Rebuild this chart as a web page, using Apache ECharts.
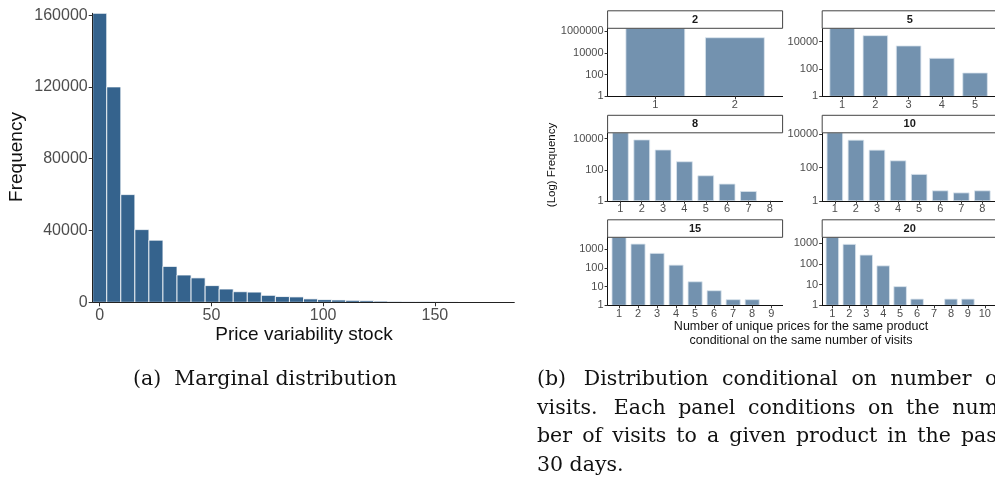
<!DOCTYPE html>
<html><head><meta charset="utf-8">
<script src="https://cdn.jsdelivr.net/npm/echarts@6/dist/echarts.min.js"></script>
<style>html,body{margin:0;padding:0;background:#fff}#c{width:995px;height:492px}</style>
</head><body><div id="c"></div>
<script>
// ---------- data ----------
const histBinWidth = 6.29;
const histCounts = [161000, 120000, 60000, 40500, 34600, 20000, 15200, 13600, 9300, 7400,
  5900, 5700, 3900, 3200, 3000, 1900, 1500, 1300, 1100, 900,
  650, 500, 450, 380, 300, 220, 120, 80, 50, 20];
const histXTicks = [0, 50, 100, 150];
const histYTicks = [0, 40000, 80000, 120000, 160000];

const panelTitles = ['2', '5', '8', '10', '15', '20'];
const cats2 = [1, 2];
const freq2 = [1780000, 243000];
const yTicks2 = [1, 100, 10000, 1000000];
const cats5 = [1, 2, 3, 4, 5];
const freq5 = [95000, 27500, 4850, 605, 51];
const yTicks5 = [1, 100, 10000];
const cats8 = [1, 2, 3, 4, 5, 6, 7, 8];
const freq8 = [24000, 8350, 1880, 328, 41, 12, 4, 1];
const yTicks8 = [1, 100, 10000];
const cats10 = [1, 2, 3, 4, 5, 6, 7, 8];
const freq10 = [12500, 4500, 1130, 257, 39, 4, 3, 4];
const yTicks10 = [1, 100, 10000];
const cats15 = [1, 2, 3, 4, 5, 6, 7, 8, 9];
const freq15 = [4240, 1850, 590, 139, 18, 6, 2, 2, 1];
const yTicks15 = [1, 10, 100, 1000];
const cats20 = [1, 2, 3, 4, 5, 6, 7, 8, 9, 10];
const freq20 = [1950, 890, 270, 81, 8, 2, 1, 2, 2, 1];
const yTicks20 = [1, 10, 100, 1000];

const captionA = '(a)  Marginal distribution';
const captionB = ['(b)  Distribution conditional on number of', 'visits.  Each panel conditions on the num-',
  'ber of visits to a given product in the past', '30 days.'];

// ---------- layout ----------
const SANS = 'Liberation Sans';
const SERIF = 'DejaVu Serif';
const CAP_SIZE = 20.5;
const histColor = '#35638D';
const facetColor = '#7392AF';
const L = { left: 92.7, top: 13.3, width: 421.6, height: 289 };
const colLeft = [607.6, 822.2];
const rowTop = [28.3, 132.8, 237.3];
const PW = 175, PH = 68, STRIP = 17.5;
const panels = [
  { cats: cats2, freq: freq2, ticks: yTicks2 },
  { cats: cats5, freq: freq5, ticks: yTicks5 },
  { cats: cats8, freq: freq8, ticks: yTicks8 },
  { cats: cats10, freq: freq10, ticks: yTicks10 },
  { cats: cats15, freq: freq15, ticks: yTicks15 },
  { cats: cats20, freq: freq20, ticks: yTicks20 }
];

const grid = [], xAxis = [], yAxis = [], series = [], graphic = [];

// left histogram
grid.push({ left: L.left, top: L.top, width: L.width, height: L.height, containLabel: false });
xAxis.push({
  type: 'value', gridIndex: 0, min: -histBinWidth / 2, max: (histCounts.length - 0.5) * histBinWidth,
  z: 5, splitLine: { show: false },
  axisLine: { show: true, onZero: false, lineStyle: { color: '#222', width: 1 } },
  axisTick: { show: true, length: 4, lineStyle: { color: '#333' }, customValues: histXTicks },
  axisLabel: { customValues: histXTicks, color: '#4d4d4d', fontSize: 16, fontFamily: SANS, margin: 5, formatter: v => String(v) }
});
yAxis.push({
  type: 'value', gridIndex: 0, min: 0, max: Math.max(...histCounts),
  z: 5, splitLine: { show: false },
  axisLine: { show: true, onZero: false, lineStyle: { color: '#222', width: 1 } },
  axisTick: { show: true, length: 4, lineStyle: { color: '#333' }, customValues: histYTicks },
  axisLabel: { customValues: histYTicks, color: '#4d4d4d', fontSize: 16, fontFamily: SANS, margin: 5, formatter: v => String(v) }
});
series.push({
  type: 'custom', xAxisIndex: 0, yAxisIndex: 0, clip: false,
  encode: { x: 0, y: 1 },
  data: histCounts.map((c, i) => [i * histBinWidth, c]),
  renderItem: (params, api) => {
    const c = api.value(0), v = api.value(1);
    const p0 = api.coord([c - histBinWidth / 2, v]);
    const p1 = api.coord([c + histBinWidth / 2, 0]);
    return { type: 'rect', shape: { x: p0[0], y: p0[1], width: p1[0] - p0[0], height: p1[1] - p0[1] },
      style: { fill: histColor, stroke: '#ffffff', lineWidth: 0.8 } };
  }
});
graphic.push({ type: 'text', x: 17, y: 157, rotation: Math.PI / 2,
  style: { text: 'Frequency', fontSize: 19, fontFamily: SANS, fill: '#111', textAlign: 'center', textVerticalAlign: 'middle' } });
graphic.push({ type: 'text', x: 304, y: 334.5,
  style: { text: 'Price variability stock', fontSize: 19, fontFamily: SANS, fill: '#111', textAlign: 'center', textVerticalAlign: 'middle' } });

// facets
const barFrac = 0.74;
panels.forEach((p, k) => {
  const gi = k + 1;
  const left = colLeft[k % 2], top = rowTop[Math.floor(k / 2)];
  grid.push({ left: left, top: top, width: PW, height: PH, containLabel: false });
  xAxis.push({
    type: 'value', gridIndex: gi, min: 0.4, max: p.cats.length + 0.6, z: 5,
    splitLine: { show: false },
    axisLine: { show: true, onZero: false, lineStyle: { color: '#111', width: 1 } },
    axisTick: { show: true, length: 3, lineStyle: { color: '#333' }, customValues: p.cats },
    axisLabel: { customValues: p.cats, color: '#4d4d4d', fontSize: 11, fontFamily: SANS, margin: 3, formatter: v => String(v) }
  });
  yAxis.push({
    type: 'log', logBase: 10, gridIndex: gi, min: 1, max: Math.max(...p.freq), z: 5,
    splitLine: { show: false },
    axisLine: { show: true, onZero: false, lineStyle: { color: '#111', width: 1 } },
    axisTick: { show: true, length: 3, lineStyle: { color: '#333' }, customValues: p.ticks },
    axisLabel: { customValues: p.ticks, color: '#4d4d4d', fontSize: 11, fontFamily: SANS, margin: 4, formatter: v => String(Math.round(v)) }
  });
  series.push({
    type: 'custom', xAxisIndex: gi, yAxisIndex: gi, clip: false,
    encode: { x: 0, y: 1 },
    data: p.cats.map((c, i) => [c, p.freq[i]]),
    renderItem: (params, api) => {
      const c = api.value(0), v = api.value(1);
      const p0 = api.coord([c - barFrac / 2, v]);
      const p1 = api.coord([c + barFrac / 2, 1]);
      const h = p1[1] - p0[1];
      if (h < 0.5) return null;
      return { type: 'rect', shape: { x: p0[0], y: p0[1], width: p1[0] - p0[0], height: h },
        style: { fill: facetColor, stroke: '#dbe4ee', lineWidth: 0.8 } };
    }
  });
  graphic.push({ type: 'rect', shape: { x: left, y: top - STRIP, width: PW, height: STRIP },
    style: { fill: '#fff', stroke: '#444', lineWidth: 1 }, z: 10 });
  graphic.push({ type: 'text', x: left + PW / 2, y: top - STRIP / 2, z: 11,
    style: { text: panelTitles[k], fontSize: 11, fontWeight: 'bold', fontFamily: SANS, fill: '#1a1a1a', textAlign: 'center', textVerticalAlign: 'middle' } });
});
graphic.push({ type: 'text', x: 552, y: 165, rotation: Math.PI / 2,
  style: { text: '(Log) Frequency', fontSize: 11.5, fontFamily: SANS, fill: '#111', textAlign: 'center', textVerticalAlign: 'middle' } });
graphic.push({ type: 'text', x: 801, y: 327,
  style: { text: 'Number of unique prices for the same product', fontSize: 12.5, fontFamily: SANS, fill: '#111', textAlign: 'center', textVerticalAlign: 'middle' } });
graphic.push({ type: 'text', x: 801, y: 340.3,
  style: { text: 'conditional on the same number of visits', fontSize: 12.5, fontFamily: SANS, fill: '#111', textAlign: 'center', textVerticalAlign: 'middle' } });

// captions
graphic.push({ type: 'text', x: 265, y: 380,
  style: { text: captionA, fontSize: CAP_SIZE, fontFamily: SERIF, fill: '#111', textAlign: 'center', textVerticalAlign: 'middle' } });
(function () {
  const ctx = document.createElement('canvas').getContext('2d');
  ctx.font = CAP_SIZE + 'px "' + SERIF + '"';
  const capLeft = 537, capRight = 1005;
  const spaceW = ctx.measureText(' ').width;
  captionB.forEach((line, i) => {
    const y = 380 + i * 28.4;
    const justify = i < captionB.length - 1;
    const parts = line.split(' ');
    const words = [], gaps = [];
    let pending = 0;
    parts.forEach(w => {
      if (w === '') { pending++; return; }
      if (words.length) gaps.push(1 + 0.3 * pending);
      pending = 0;
      words.push(w);
    });
    const widths = words.map(w => ctx.measureText(w).width);
    const totalW = widths.reduce((a, b) => a + b, 0);
    const gapUnits = gaps.reduce((a, b) => a + b, 0);
    const unit = justify && gapUnits ? (capRight - capLeft - totalW) / gapUnits : spaceW;
    let x = capLeft;
    words.forEach((w, j) => {
      graphic.push({ type: 'text', x: x, y: y,
        style: { text: w, fontSize: CAP_SIZE, fontFamily: SERIF, fill: '#111', textAlign: 'left', textVerticalAlign: 'middle' } });
      x += widths[j] + (j < gaps.length ? gaps[j] * unit : 0);
    });
  });
})();

const chart = echarts.init(document.getElementById('c'), null, { renderer: 'canvas' });
chart.setOption({ animation: false, backgroundColor: '#fff', grid, xAxis, yAxis, series, graphic });
</script>
</body></html>
